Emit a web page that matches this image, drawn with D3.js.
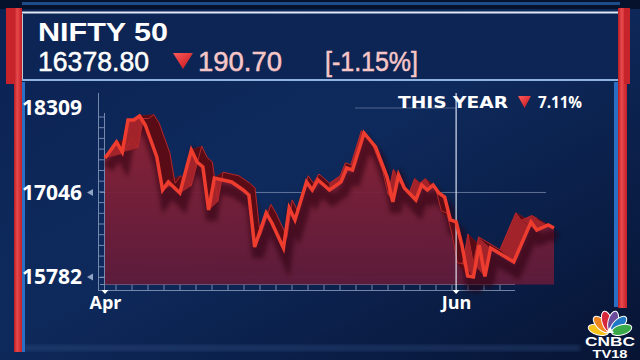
<!DOCTYPE html>
<html>
<head>
<meta charset="utf-8">
<script src="https://cdn.jsdelivr.net/npm/d3@7"></script>
<style>
  html, body { margin: 0; padding: 0; background: #081637; }
  svg { display: block; }
</style>
</head>
<body>
<div id="chart"></div>
<script>
// NIFTY 50 closes
const dates = [
  '2022-04-01','2022-04-03','2022-04-04','2022-04-05','2022-04-06','2022-04-07','2022-04-08',
  '2022-04-10','2022-04-11','2022-04-12','2022-04-14','2022-04-16','2022-04-17','2022-04-18',
  '2022-04-19','2022-04-20','2022-04-23','2022-04-25','2022-04-26','2022-04-27','2022-04-29',
  '2022-04-30','2022-05-02','2022-05-03','2022-05-04','2022-05-06','2022-05-07','2022-05-08',
  '2022-05-09','2022-05-10','2022-05-12','2022-05-13','2022-05-14','2022-05-16','2022-05-18',
  '2022-05-20','2022-05-21','2022-05-22','2022-05-23','2022-05-25','2022-05-26','2022-05-27',
  '2022-05-28','2022-05-29','2022-05-30','2022-05-31','2022-06-01','2022-06-02','2022-06-03',
  '2022-06-04','2022-06-05','2022-06-06','2022-06-07','2022-06-11','2022-06-14','2022-06-15',
  '2022-06-17','2022-06-18'
];
const closes = [
  17561, 17801, 17651, 18130, 18130, 18189, 18055,
  17576, 17083, 17203, 17038, 17681, 17502, 17427,
  16784, 17262, 17203, 17083, 17008, 16231, 16739,
  16590, 16216, 16814, 16635, 17203, 17083, 17233,
  17158, 17083, 17203, 17412, 17382, 17935, 17726,
  17277, 16904, 17307, 17113, 16934, 17158, 17083,
  17158, 17038, 16978, 16635, 16605, 16261, 15797,
  15782, 16261, 15790, 16216, 16007, 16605, 16485,
  16560, 16515
];
const yTicks = [15782, 17046, 18309];
const xTicks = ['2022-04-01', '2022-06-01'];

const title = 'NIFTY 50';
const lastValue = '16378.80';
const change = '190.70';
const changePct = '[-1.15%]';
const yearLabel = 'THIS YEAR';
const yearChange = '7.11%';

const width = 640;
const height = 360;

const parse = d3.timeParse('%Y-%m-%d');
const data = dates.map((d, i) => ({ date: parse(d), value: closes[i] }));

const svg = d3.select('#chart')
              .append('svg')
              .attr('width', width)
              .attr('height', height);

const defs = svg.append('defs');

const bg = defs.append('linearGradient').attr('id', 'bg')
               .attr('x1', 0).attr('y1', 0).attr('x2', 1).attr('y2', 1);
bg.append('stop').attr('offset', '0%').attr('stop-color', '#0b2252');
bg.append('stop').attr('offset', '45%').attr('stop-color', '#0e2a5d');
bg.append('stop').attr('offset', '100%').attr('stop-color', '#071434');

const areaGrad = defs.append('linearGradient').attr('id', 'areaGrad')
                     .attr('x1', 0).attr('y1', 0).attr('x2', 0).attr('y2', 1);
areaGrad.append('stop').attr('offset', '0%').attr('stop-color', '#902335');
areaGrad.append('stop').attr('offset', '100%').attr('stop-color', '#5f1b3a');

const redBar = defs.append('linearGradient').attr('id', 'redBar')
                   .attr('x1', 0).attr('y1', 0).attr('x2', 1).attr('y2', 0);
redBar.append('stop').attr('offset', '0%').attr('stop-color', '#b81d24');
redBar.append('stop').attr('offset', '40%').attr('stop-color', '#e8494c');
redBar.append('stop').attr('offset', '100%').attr('stop-color', '#c21f26');

const tri = defs.append('linearGradient').attr('id', 'tri')
                .attr('x1', 0).attr('y1', 0).attr('x2', 1).attr('y2', 1);
tri.append('stop').attr('offset', '0%').attr('stop-color', '#ff5a5a');
tri.append('stop').attr('offset', '100%').attr('stop-color', '#c0141c');

defs.append('filter').attr('id', 'blur')
    .append('feGaussianBlur').attr('stdDeviation', 2);

// background
svg.append('rect').attr('width', width).attr('height', height).attr('fill', 'url(#bg)');
svg.append('rect').attr('x', 0).attr('y', 0).attr('width', width).attr('height', 9).attr('fill', '#06112c');
svg.append('rect').attr('x', 22).attr('y', 2).attr('width', 598).attr('height', 3)
   .attr('fill', '#2f74c8').attr('opacity', 0.6);
svg.append('rect').attr('x', 20).attr('y', 345).attr('width', 560).attr('height', 6)
   .attr('fill', '#3a5c92').attr('opacity', 0.35).attr('filter', 'url(#blur)');

// header panel
svg.append('rect').attr('x', 22).attr('y', 12).attr('width', 598).attr('height', 68).attr('fill', '#0d2554');
svg.append('line').attr('x1', 18).attr('x2', 624).attr('y1', 12.5).attr('y2', 12.5)
   .attr('stroke', '#dfe7f3').attr('stroke-width', 2);
svg.append('line').attr('x1', 22).attr('x2', 620).attr('y1', 80).attr('y2', 80)
   .attr('stroke', '#8fb3e0').attr('stroke-width', 2);
svg.append('line').attr('x1', 22).attr('x2', 22).attr('y1', 14).attr('y2', 79)
   .attr('stroke', '#ffffff').attr('stroke-width', 1.5);

// side bars
svg.append('rect').attr('x', 22).attr('y', 82).attr('width', 3).attr('height', 270).attr('fill', '#2b6fc4');
svg.append('rect').attr('x', 14).attr('y', 8).attr('width', 8).attr('height', 344).attr('fill', 'url(#redBar)');
svg.append('rect').attr('x', 6).attr('y', 8).attr('width', 9).attr('height', 76).attr('fill', '#c7232b');
svg.append('rect').attr('x', 614).attr('y', 82).attr('width', 4).attr('height', 225).attr('fill', '#2b6fc4');
svg.append('rect').attr('x', 618).attr('y', 8).attr('width', 9).attr('height', 300).attr('fill', 'url(#redBar)');
svg.append('rect').attr('x', 624).attr('y', 8).attr('width', 6).attr('height', 76).attr('fill', '#c7232b');

// header text
svg.append('text').attr('x', 38).attr('y', 41)
   .attr('textLength', 130).attr('lengthAdjust', 'spacingAndGlyphs')
   .style('font-family', 'Liberation Sans').style('font-weight', 700).style('font-size', '26px')
   .attr('fill', '#ffffff').text(title);

const headerNums = [
  { text: lastValue, x: 38, len: 111, color: '#ffffff' },
  { text: change, x: 198, len: 84, color: '#f6c6c8' },
  { text: changePct, x: 325, len: 93, color: '#f6c6c8' }
];
headerNums.forEach((h) => {
  svg.append('text').attr('x', h.x).attr('y', 71)
     .attr('textLength', h.len).attr('lengthAdjust', 'spacingAndGlyphs')
     .style('font-family', 'Liberation Sans').style('font-size', '27px')
     .attr('fill', h.color).attr('stroke', h.color).attr('stroke-width', 0.5)
     .text(h.text);
});
svg.append('path').attr('d', 'M173,53 L193,53 L183,69 Z').attr('fill', 'url(#tri)');

// scales
const x = d3.scaleTime()
            .domain([parse('2022-04-01'), parse('2022-06-18')])
            .range([105, 554]);
const y = d3.scaleLinear()
            .domain([15782, 18309])
            .range([277, 108]);

// grid lines
const grid = svg.append('g').attr('stroke', '#c7d3ea').attr('stroke-width', 1);
grid.append('line').attr('x1', 100).attr('x2', 546).attr('y1', y(17046)).attr('y2', y(17046)).attr('opacity', 0.45);
grid.append('line').attr('x1', 355).attr('x2', 457).attr('y1', y(18309)).attr('y2', y(18309)).attr('opacity', 0.35);

// axis ladders
const ladder = svg.append('g').attr('stroke', '#b9c8e4').attr('stroke-width', 1).attr('opacity', 0.6);
ladder.append('line').attr('x1', 98.5).attr('x2', 98.5).attr('y1', 93).attr('y2', 290);
ladder.append('line').attr('x1', 104.5).attr('x2', 104.5).attr('y1', 113).attr('y2', 290);
d3.range(117, 288, 10.7).forEach((v) => {
  ladder.append('line').attr('x1', 98).attr('x2', 105).attr('y1', v).attr('y2', v);
});
ladder.append('line').attr('x1', 100).attr('x2', 515).attr('y1', 284.5).attr('y2', 284.5);
ladder.append('line').attr('x1', 98).attr('x2', 515).attr('y1', 290.5).attr('y2', 290.5);
d3.range(116, 515, 16).forEach((v) => {
  ladder.append('line').attr('x1', v).attr('x2', v).attr('y1', 285).attr('y2', 290);
});

// area
const area = d3.area()
               .x((d) => x(d.date))
               .y0(y(15670))
               .y1((d) => y(d.value));
svg.append('path').datum(data).attr('d', area).attr('fill', 'url(#areaGrad)').attr('opacity', 0.95);

grid.append('line').attr('x1', 100).attr('x2', 548).attr('y1', y(15782)).attr('y2', y(15782))
    .attr('opacity', 0.35).raise();

const line = d3.line()
               .x((d) => x(d.date))
               .y((d) => y(d.value));

// shadow under the ribbon
svg.append('path').datum(data).attr('d', line)
   .attr('fill', 'none').attr('stroke', '#2a0511').attr('stroke-width', 11)
   .attr('opacity', 0.55).attr('transform', 'translate(3,10)').attr('filter', 'url(#blur)');

// ribbon faces toward a vanishing point
const vp = [330, 100];
const k = 0.075;
const pts = data.map((d) => [x(d.date), y(d.value)]);
const back = pts.map((p) => [p[0] + k * (vp[0] - p[0]), p[1] + k * (vp[1] - p[1])]);
const faces = svg.append('g');
for (let i = 0; i < pts.length - 1; i++) {
  const quad = [pts[i], pts[i + 1], back[i + 1], back[i]];
  const col = pts[i + 1][1] > pts[i][1] ? '#5a0c16' : '#a3232a';
  faces.append('path')
       .attr('d', 'M' + quad.map((p) => p.join(',')).join('L') + 'Z')
       .attr('fill', col).attr('stroke', col).attr('stroke-width', 0.6);
}
svg.append('path').datum(back).attr('d', d3.line())
   .attr('fill', 'none').attr('stroke', '#b3282c').attr('stroke-width', 1);

// Jun marker line
svg.append('line').attr('x1', x(parse('2022-06-01'))).attr('x2', x(parse('2022-06-01')))
   .attr('y1', 93).attr('y2', 290)
   .attr('stroke', '#e6ecf7').attr('stroke-width', 1.5).attr('opacity', 0.75);

// front line
svg.append('path').datum(data).attr('d', line)
   .attr('fill', 'none').attr('stroke', '#ee3d2f').attr('stroke-width', 3.5)
   .attr('stroke-linejoin', 'miter');

// y axis labels
const yAxis = svg.append('g')
                 .attr('transform', 'translate(100,0)')
                 .call(d3.axisLeft(y).tickValues(yTicks).tickSize(0).tickPadding(18).tickFormat(d3.format('d')));
yAxis.select('.domain').remove();
yAxis.selectAll('text')
     .attr('fill', '#ffffff')
     .style('font-family', 'Open Sans').style('font-weight', 700).style('font-size', '21px');

[17046, 15782].forEach((v) => {
  svg.append('path')
     .attr('d', 'M87,' + y(v) + ' l6,-3.5 l0,7 Z')
     .attr('fill', '#8fa3c4');
});

// x axis labels
const xAxis = svg.append('g')
                 .attr('transform', 'translate(0,290)')
                 .call(d3.axisBottom(x).tickValues(xTicks.map(parse)).tickSize(0).tickPadding(6)
                         .tickFormat(d3.timeFormat('%b')));
xAxis.select('.domain').remove();
xAxis.selectAll('text')
     .attr('fill', '#ffffff')
     .style('font-family', 'Open Sans').style('font-weight', 700).style('font-size', '18px');
xTicks.forEach((t) => {
  const px = x(parse(t));
  svg.append('path').attr('d', 'M' + (px - 3.5) + ',290 l7,0 l-3.5,4 Z').attr('fill', '#ffffff');
});

// this year
svg.append('text').attr('x', 398).attr('y', 108)
   .attr('textLength', 110).attr('lengthAdjust', 'spacingAndGlyphs')
   .style('font-family', 'DejaVu Sans').style('font-weight', 700).style('font-size', '16px')
   .attr('fill', '#ffffff').text(yearLabel);
svg.append('path').attr('d', 'M518,96 L531,96 L524.5,108 Z').attr('fill', 'url(#tri)');
svg.append('text').attr('x', 538).attr('y', 108)
   .attr('textLength', 44).attr('lengthAdjust', 'spacingAndGlyphs')
   .style('font-family', 'Open Sans').style('font-weight', 700).style('font-size', '16px')
   .attr('fill', '#ffffff').text(yearChange);

// logo
const featherColors = ['#f6c21a', '#f0841f', '#d8283b', '#6c4a9c', '#1e78c3', '#3aa948'];
const logo = svg.append('g').attr('transform', 'translate(610,333)');
logo.selectAll('ellipse')
    .data(featherColors)
    .enter()
    .append('ellipse')
    .attr('cx', 0).attr('cy', -12).attr('rx', 5).attr('ry', 10.5)
    .attr('transform', (d, i) => 'rotate(' + (-75 + i * 30) + ')')
    .attr('fill', (d) => d).attr('stroke', '#ffffff').attr('stroke-width', 1);
logo.append('path').attr('d', 'M-4,0 L0,-6 L4,0 Z').attr('fill', '#ffffff');
svg.append('text').attr('x', 610).attr('y', 345.5).attr('text-anchor', 'middle')
   .attr('textLength', 50).attr('lengthAdjust', 'spacingAndGlyphs')
   .style('font-family', 'Liberation Sans').style('font-weight', 700).style('font-size', '12px')
   .attr('fill', '#ffffff').text('CNBC');
svg.append('text').attr('x', 610).attr('y', 357.5).attr('text-anchor', 'middle')
   .attr('textLength', 35).attr('lengthAdjust', 'spacingAndGlyphs')
   .style('font-family', 'Liberation Sans').style('font-weight', 700).style('font-size', '10px')
   .attr('fill', '#ffffff').text('TV18');
</script>
</body>
</html>
